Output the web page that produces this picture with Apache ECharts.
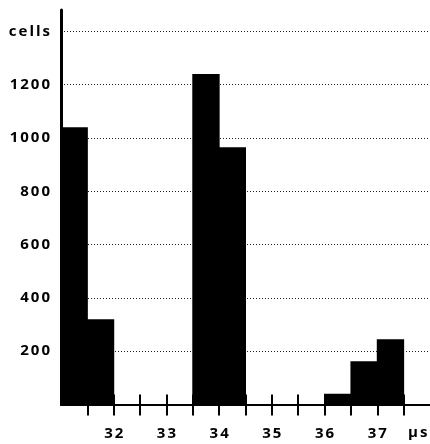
<!DOCTYPE html>
<html>
<head>
<meta charset="utf-8">
<script src="https://cdn.jsdelivr.net/npm/echarts@6/dist/echarts.min.js"></script>
<style>
  html, body { margin: 0; padding: 0; background: #fff; }
  #chart { width: 430px; height: 444px; }
</style>
</head>
<body>
<div id="chart"></div>
<script>
// Histogram bins (left edges, µs) and the cell count in each bin
const binStarts = [31, 31.5, 32, 32.5, 33, 33.5, 34, 34.5, 35, 35.5, 36, 36.5, 37];
const binWidth = 0.5;
const cellCounts = [1040, 320, 0, 0, 0, 1240, 965, 0, 0, 0, 40, 162, 245];

// Axis ticks and labels
const xTickValues = [31.5, 32, 32.5, 33, 33.5, 34, 34.5, 35, 35.5, 36, 36.5, 37, 37.5];
const xLabelValues = [32, 33, 34, 35, 36, 37];
const xTickLabels = { 32: '32', 33: '33', 34: '34', 35: '35', 36: '36', 37: '37' };
const yTickLabels = { 200: '200', 400: '400', 600: '600', 800: '800', 1000: '1000', 1200: '1200', 1400: 'cells' };
const xUnit = 'µs';

// Wrap each character in its own rich-text token so the labels get letter spacing
function spaced(s) {
  return s.split('').map(ch => '{c|' + ch + '}').join('');
}
const labelFont = { fontFamily: 'Open Sans', fontWeight: 'bold', fontSize: 15, color: '#000' };
const richSpaced = { c: Object.assign({ padding: [0, 1] }, labelFont) };

const chart = echarts.init(document.getElementById('chart'), null, { renderer: 'canvas' });

chart.setOption({
  backgroundColor: '#fff',
  animation: false,
  grid: { left: 61, right: -4, top: 10, bottom: 39.5, containLabel: false },
  xAxis: [
    {
      type: 'value', min: 31, max: 38, interval: 0.5,
      axisLine: { show: true, lineStyle: { color: '#000', width: 2 } },
      axisTick: { show: true, length: 11, customValues: xTickValues, lineStyle: { color: '#000', width: 2 } },
      splitLine: { show: false },
      axisLabel: {
        margin: 22,
        customValues: xLabelValues,
        formatter: v => xTickLabels[v] ? spaced(xTickLabels[v]) : '',
        rich: richSpaced
      }
    },
    {
      // upper half of the crossing tick marks
      type: 'value', min: 31, max: 38, interval: 0.5, position: 'bottom',
      axisLine: { show: false },
      axisTick: { show: true, inside: true, length: 10, customValues: xTickValues, lineStyle: { color: '#000', width: 2 } },
      splitLine: { show: false },
      axisLabel: { show: false }
    }
  ],
  yAxis: {
    type: 'value', min: 0, max: 1480, interval: 200,
    axisLine: { show: true, lineStyle: { color: '#000', width: 3 } },
    axisTick: { show: false },
    splitLine: {
      show: true, showMinLine: false, showMaxLine: false,
      lineStyle: { color: '#222', width: 1, type: [1, 2] }
    },
    axisLabel: {
      margin: 10,
      formatter: v => yTickLabels[v] ? spaced(yTickLabels[v]) : '',
      rich: richSpaced
    }
  },
  graphic: [
    {
      type: 'text', left: 408, top: 425,
      style: { text: spaced(xUnit), rich: richSpaced }
    }
  ],
  series: [
    {
      type: 'custom',
      xAxisIndex: 0,
      clip: true,
      data: binStarts.map((s, i) => [s, s + binWidth, cellCounts[i]]),
      renderItem: function (params, api) {
        const x0 = api.value(0), x1 = api.value(1), y = api.value(2);
        if (!y) return null;
        const p0 = api.coord([x0, y]);
        const p1 = api.coord([x1, 0]);
        // widen by a pixel so neighbouring bins merge without a seam
        return {
          type: 'rect',
          shape: { x: p0[0] - 0.5, y: p0[1], width: p1[0] - p0[0] + 1, height: p1[1] - p0[1] },
          style: { fill: '#000' }
        };
      }
    }
  ]
});
</script>
</body>
</html>
